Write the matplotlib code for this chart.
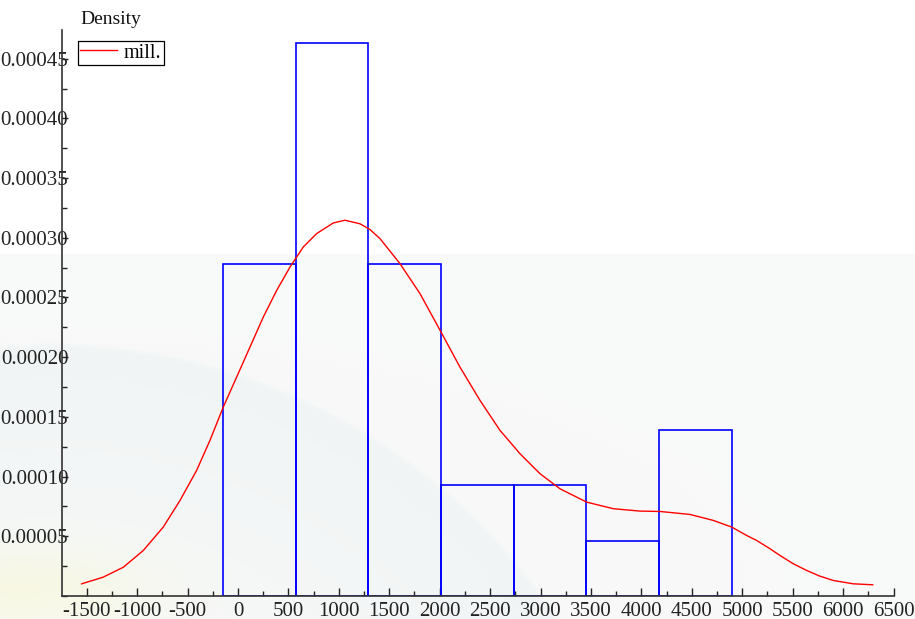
import numpy as np
import matplotlib
matplotlib.use("Agg")
import matplotlib.pyplot as plt
from matplotlib.ticker import MultipleLocator, FuncFormatter

# ---- data ----
bin_edges = [-146, 574, 1294, 2014, 2734, 3454, 4174, 4894]
bin_density = [0.0002778, 0.000463, 0.0002778, 0.0000926, 0.0000926, 0.0000463, 0.000139]

kde_x = [-1550, -1336, -1137, -939, -741, -575, -410, -278, -146, -13, 119, 251, 384,
         516, 648, 780, 945, 1061, 1210, 1309, 1408, 1606, 1805, 2013, 2201, 2400,
         2598, 2796, 2995, 3193, 3458, 3722, 3986, 4185, 4482, 4713, 4896, 5044,
         5143, 5275, 5375, 5506, 5639, 5771, 5903, 6101, 6294]
kde_y = [1.02, 1.58, 2.41, 3.81, 5.77, 8.00, 10.52, 13.03, 15.82, 18.34, 20.85, 23.36, 25.60,
         27.55, 29.23, 30.35, 31.24, 31.47, 31.17, 30.69, 29.93, 27.84, 25.32, 22.11, 19.17, 16.38,
         13.87, 11.92, 10.24, 8.98, 7.86, 7.31, 7.11, 7.08, 6.83, 6.33, 5.77, 5.07,
         4.65, 3.96, 3.39, 2.70, 2.14, 1.66, 1.30, 1.02, 0.94]
kde_y = [v * 1e-5 for v in kde_y]

series_name = "mill."
y_label = "Density"
x_ticks = list(range(-1500, 7000, 500))
y_ticks = [0.00005, 0.00010, 0.00015, 0.00020, 0.00025, 0.00030, 0.00035, 0.00040, 0.00045]

plt.rcParams['font.family'] = ['Liberation Serif', 'DejaVu Serif']
plt.rcParams['axes.unicode_minus'] = False
FS = 15

W, H = 915, 619
fig = plt.figure(figsize=(W / 100, H / 100), dpi=100)

# ---- faint background decoration ----
bg = fig.add_axes([0, 0, 1, 1], zorder=-10)
yy, xx = np.mgrid[0:H, 0:W]
img = np.ones((H, W, 3))
lower = yy > 253
img[lower] = np.array([248, 249, 249]) / 255.0
# soft arc band (smooth falloff inward)
cx, cy, r = 50, 950, 608
d = np.sqrt((xx - cx) ** 2 + (yy - cy) ** 2)
inside = np.clip((r - d) / 6.0, 0, 1)
fade = np.clip(1 - (r - d) / 320.0, 0, 1)
strength = (inside * fade * lower)[..., None]
img = img * (1 - 0.9 * strength) + 0.9 * strength * np.array([240, 244, 244]) / 255.0
# yellow tint lower-left
yel = np.exp(-(((xx - 20) / 130.0) ** 2 + ((yy - 590) / 45.0) ** 2))[..., None]
img = img * (1 - 0.7 * yel) + 0.7 * yel * np.array([248, 248, 220]) / 255.0
bg.imshow(img, extent=[0, 1, 0, 1], aspect='auto', interpolation='bilinear')
bg.axis('off')

# ---- main axes ----
left, right = 62 / W, 893.5 / W
bottom, top = 1 - 596 / H, 1 - 30 / H
ax = fig.add_axes([left, bottom, right - left, top - bottom])
ax.patch.set_alpha(0)

widths = np.diff(bin_edges)
ax.bar(bin_edges[:-1], bin_density, width=widths, align='edge',
       facecolor='none', edgecolor='#0000ff', linewidth=1.2, zorder=2)
ax.plot(kde_x, kde_y, color='#ff0000', linewidth=1.0, label=series_name, zorder=3)

ax.set_xlim(-1745, 6500)
ax.set_ylim(0, 0.000474)

for s in ['top', 'right']:
    ax.spines[s].set_visible(False)
for s in ['left', 'bottom']:
    ax.spines[s].set_color('#333333')
    ax.spines[s].set_linewidth(1.2)

ax.set_xticks(x_ticks)
ax.xaxis.set_minor_locator(MultipleLocator(250))
ax.set_yticks(y_ticks)
ax.yaxis.set_minor_locator(MultipleLocator(0.000025))
ax.yaxis.set_major_formatter(FuncFormatter(lambda v, p: f"{v:.5f}"))
ax.xaxis.set_major_formatter(FuncFormatter(lambda v, p: f"{int(round(v))}"))

ax.tick_params(axis='x', which='major', direction='in', length=6, width=1, pad=4,
               labelsize=FS, colors='#222222')
ax.tick_params(axis='x', which='minor', direction='in', length=3.5, width=1, colors='#222222')
ax.tick_params(axis='y', which='major', direction='in', length=4.5, width=1, pad=-4.5,
               labelsize=FS, colors='#222222')
ax.tick_params(axis='y', which='minor', direction='in', length=3.5, width=1, colors='#222222')

fig.text(80 / W, 1 - 20 / H, y_label, fontsize=14, ha='left', va='center', color='#111111')

leg = ax.legend(loc='upper left', bbox_to_anchor=((78 - 62) / (893.5 - 62), 1 - (41 - 30) / (596 - 30)),
                frameon=True, fancybox=False, fontsize=14.5, handlelength=1.8,
                borderpad=0.12, handletextpad=0.35, borderaxespad=0)
leg.get_frame().set_edgecolor('#000000')
leg.get_frame().set_linewidth(0.9)
leg.get_frame().set_facecolor('white')
leg.get_frame().set_alpha(1)

fig.savefig('out.png', dpi=100)
